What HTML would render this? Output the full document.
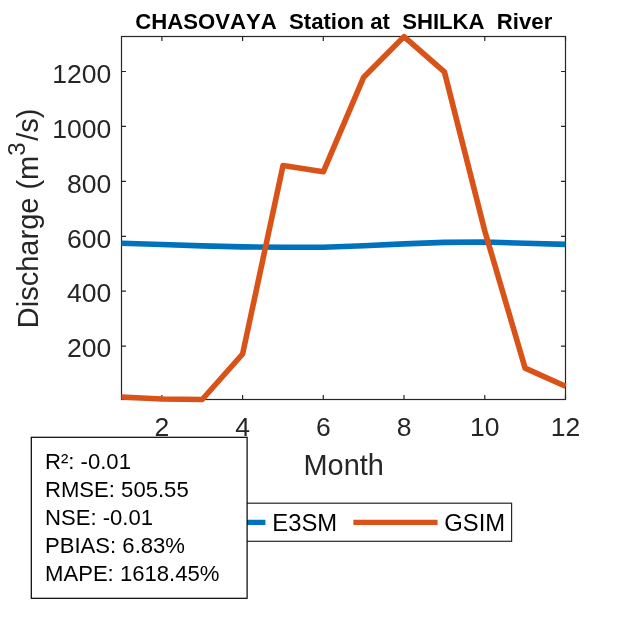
<!DOCTYPE html>
<html><head><meta charset="utf-8"><title>CHASOVAYA Station at SHILKA River</title>
<style>
html,body{margin:0;padding:0;background:#fff;}
svg{display:block;}
text{font-family:"Liberation Sans",Arial,Helvetica,sans-serif;font-kerning:none;}
</style></head><body>
<svg width="625" height="625" viewBox="0 0 625 625">
<rect width="625" height="625" fill="#fff"/>
<rect x="121.5" y="36.5" width="444.0" height="363.0" fill="none" stroke="#262626" stroke-width="1.2"/>
<path d="M161.9,399.5v-4.5M161.9,36.5v4.5M242.6,399.5v-4.5M242.6,36.5v4.5M323.3,399.5v-4.5M323.3,36.5v4.5M404.0,399.5v-4.5M404.0,36.5v4.5M484.8,399.5v-4.5M484.8,36.5v4.5M565.5,399.5v-4.5M565.5,36.5v4.5M121.5,346.1h4.5M565.5,346.1h-4.5M121.5,291.2h4.5M565.5,291.2h-4.5M121.5,236.3h4.5M565.5,236.3h-4.5M121.5,181.3h4.5M565.5,181.3h-4.5M121.5,126.4h4.5M565.5,126.4h-4.5M121.5,71.5h4.5M565.5,71.5h-4.5" stroke="#262626" stroke-width="1.2" fill="none"/>
<polyline points="121.5,243.2 161.9,244.5 202.2,245.9 242.6,246.9 283.0,247.3 323.3,247.2 363.7,245.7 404.0,243.9 444.4,242.4 484.8,242.0 525.1,243.2 565.5,244.4" fill="none" stroke="#0072BD" stroke-width="5.6" stroke-linejoin="round"/>
<polyline points="121.5,397.0 161.9,399.0 202.2,399.5 242.6,354.0 283.0,165.6 323.3,171.8 363.7,77.2 404.0,36.6 444.4,71.8 484.8,231.0 525.1,368.1 565.5,386.2" fill="none" stroke="#D95319" stroke-width="5.6" stroke-linejoin="round"/>
<g font-size="26.5" fill="#262626">
<text x="161.9" y="436" text-anchor="middle">2</text>
<text x="242.6" y="436" text-anchor="middle">4</text>
<text x="323.3" y="436" text-anchor="middle">6</text>
<text x="404.0" y="436" text-anchor="middle">8</text>
<text x="484.8" y="436" text-anchor="middle">10</text>
<text x="565.5" y="436" text-anchor="middle">12</text>
<text x="111.3" y="357.3" text-anchor="end">200</text>
<text x="111.3" y="302.4" text-anchor="end">400</text>
<text x="111.3" y="247.5" text-anchor="end">600</text>
<text x="111.3" y="192.5" text-anchor="end">800</text>
<text x="111.3" y="137.6" text-anchor="end">1000</text>
<text x="111.3" y="82.7" text-anchor="end">1200</text>
</g>
<text x="343.7" y="474.7" font-size="28.9" fill="#262626" text-anchor="middle">Month</text>
<text transform="translate(37.8,218.4) rotate(-90)" font-size="29" fill="#262626" text-anchor="middle">Discharge (m<tspan font-size="24" dy="-12.8">3</tspan><tspan dy="12.8" dx="1.5">/s)</tspan></text>
<text x="343.75" y="28.9" font-size="22.15" font-weight="bold" fill="#000" text-anchor="middle" xml:space="preserve" style="white-space:pre">CHASOVAYA  Station at  SHILKA  River</text>
<rect x="174" y="503.2" width="337.6" height="38.1" fill="#fff" stroke="#262626" stroke-width="1.2"/>
<line x1="181.2" x2="265.4" y1="522.3" y2="522.3" stroke="#0072BD" stroke-width="5.3"/>
<line x1="353.4" x2="437.6" y1="522.3" y2="522.3" stroke="#D95319" stroke-width="5.3"/>
<text x="272.3" y="530.5" font-size="23.8" fill="#000">E3SM</text>
<text x="444.3" y="530.5" font-size="23.8" fill="#000">GSIM</text>
<rect x="31.3" y="437.3" width="215.8" height="161.0" fill="#fff" stroke="#000" stroke-width="1.2"/>
<g font-size="22.1" fill="#000">
<text x="45" y="468.5">R²: -0.01</text>
<text x="45" y="496.7">RMSE: 505.55</text>
<text x="45" y="524.8">NSE: -0.01</text>
<text x="45" y="553.0">PBIAS: 6.83%</text>
<text x="45" y="581.2">MAPE: 1618.45%</text>
</g>
</svg>
</body></html>
